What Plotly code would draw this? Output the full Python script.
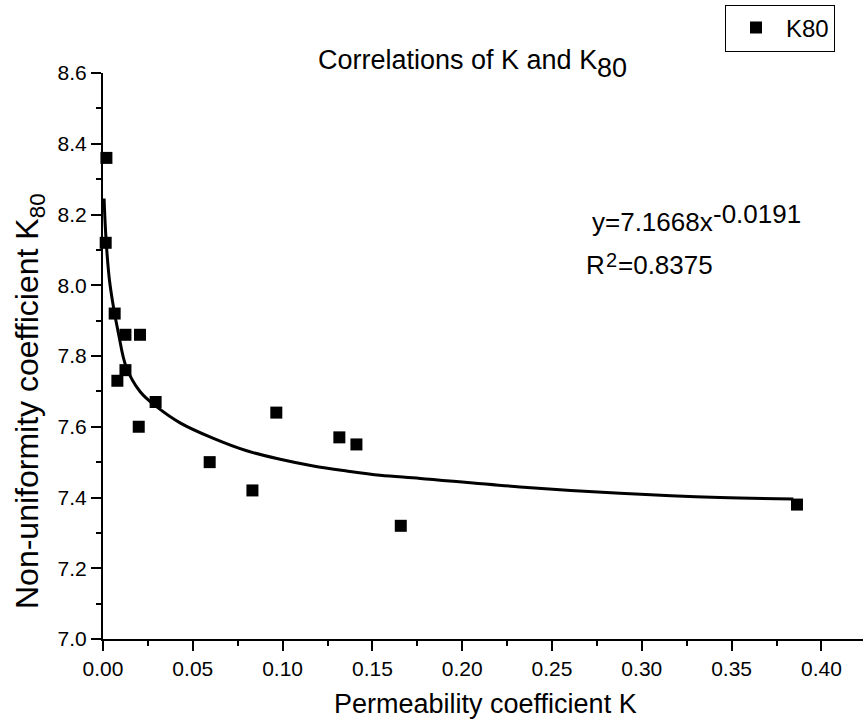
import plotly.graph_objects as go

# ---- data ----
K = [0.0019, 0.0015, 0.0065, 0.0125, 0.0206, 0.0125, 0.0080, 0.0293, 0.0199,
     0.0594, 0.0832, 0.0965, 0.1316, 0.1411, 0.1658, 0.3864]
K80 = [8.36, 8.12, 7.92, 7.86, 7.86, 7.76, 7.73, 7.67, 7.60,
       7.50, 7.42, 7.64, 7.57, 7.55, 7.32, 7.38]

# fitted power curve
fit_x = [0.0006, 0.0013, 0.0021, 0.0036, 0.0058, 0.0086, 0.0129, 0.0207, 0.030,
         0.0429, 0.0615, 0.080, 0.0986, 0.1171, 0.1357, 0.1543, 0.1766, 0.2322,
         0.2879, 0.3435, 0.3844]
fit_y = [8.245, 8.165, 8.099, 8.014, 7.939, 7.864, 7.769, 7.699, 7.656,
         7.611, 7.567, 7.532, 7.508, 7.489, 7.475, 7.463, 7.454, 7.430,
         7.412, 7.400, 7.396]

x_ticks = [0.00, 0.05, 0.10, 0.15, 0.20, 0.25, 0.30, 0.35, 0.40]
y_ticks = [7.0, 7.2, 7.4, 7.6, 7.8, 8.0, 8.2, 8.4, 8.6]

# ---- layout geometry (pixels) ----
W, H = 863, 719
L, T, R, B = 103, 73, 0, 80
PW, PH = W - L - R, H - T - B
FONT = "Liberation Sans, Arial, sans-serif"


def px(x):
    return (x - L) / PW


def py(y):
    return 1 - (y - T) / PH


fig = go.Figure()
fig.add_trace(go.Scatter(
    x=fit_x, y=fit_y, mode="lines", line=dict(color="black", width=3, shape="spline"),
    showlegend=False, hoverinfo="skip"))
fig.add_trace(go.Scatter(
    x=K, y=K80, mode="markers", name="K80",
    marker=dict(symbol="square", size=12, color="black"), cliponaxis=False))

ann = []


def add(text, x, y, size, xanchor="center", yanchor="middle", angle=0):
    ann.append(dict(text=text, x=px(x), y=py(y), xref="paper", yref="paper",
                    xanchor=xanchor, yanchor=yanchor, showarrow=False,
                    textangle=angle, borderpad=0, borderwidth=0,
                    font=dict(family=FONT, size=size, color="black")))


# title
add("Correlations of K and K", 597, 60, 27, xanchor="right")
add("80", 597, 68, 27, xanchor="left")
# equation
add("y=7.1668x", 713, 222, 26, xanchor="right")
add("-0.0191", 713, 214, 26, xanchor="left")
add("R", 605, 265, 26, xanchor="right")
add("2", 606, 260, 20, xanchor="left")
add("=0.8375", 618, 265, 26, xanchor="left")
# axis titles
add("Permeability coefficient K", 486, 704, 27)
add("Non-uniformity coefficient K<sub>80</sub>", 29, 401, 32, angle=-90)

fig.update_layout(
    width=W, height=H,
    margin=dict(l=L, r=R, t=T, b=B),
    paper_bgcolor="white", plot_bgcolor="white",
    font=dict(family=FONT, size=21, color="black"),
    annotations=ann,
    showlegend=True,
    legend=dict(x=px(835), y=py(28), xanchor="right", yanchor="middle",
                bordercolor="black", borderwidth=1, bgcolor="white",
                font=dict(family=FONT, size=24, color="black"),
                itemwidth=50, tracegroupgap=0),
    xaxis=dict(range=[0, (W - R - L) / 1796], tickvals=x_ticks,
               ticktext=[f"{v:.2f}" for v in x_ticks],
               showgrid=False, zeroline=False, showline=True, linecolor="black",
               linewidth=2, ticks="outside", ticklen=10, tickwidth=2,
               tickcolor="black", tickfont=dict(size=21),
               minor=dict(dtick=0.025, tick0=0, ticks="outside", ticklen=5,
                          tickwidth=2, tickcolor="black", showgrid=False)),
    yaxis=dict(range=[7.0, 8.6], tickvals=y_ticks,
               ticktext=[f"{v:.1f}" for v in y_ticks],
               showgrid=False, zeroline=False, showline=True, linecolor="black",
               linewidth=2, ticks="outside", ticklen=10, tickwidth=2,
               tickcolor="black", tickfont=dict(size=21),
               minor=dict(dtick=0.1, tick0=7.0, ticks="outside", ticklen=5,
                          tickwidth=2, tickcolor="black", showgrid=False)),
)

fig.write_html(
    "out.html",
    config={"displayModeBar": False},
    post_script="document.body.style.margin='0';document.body.style.overflow='hidden';",
)
